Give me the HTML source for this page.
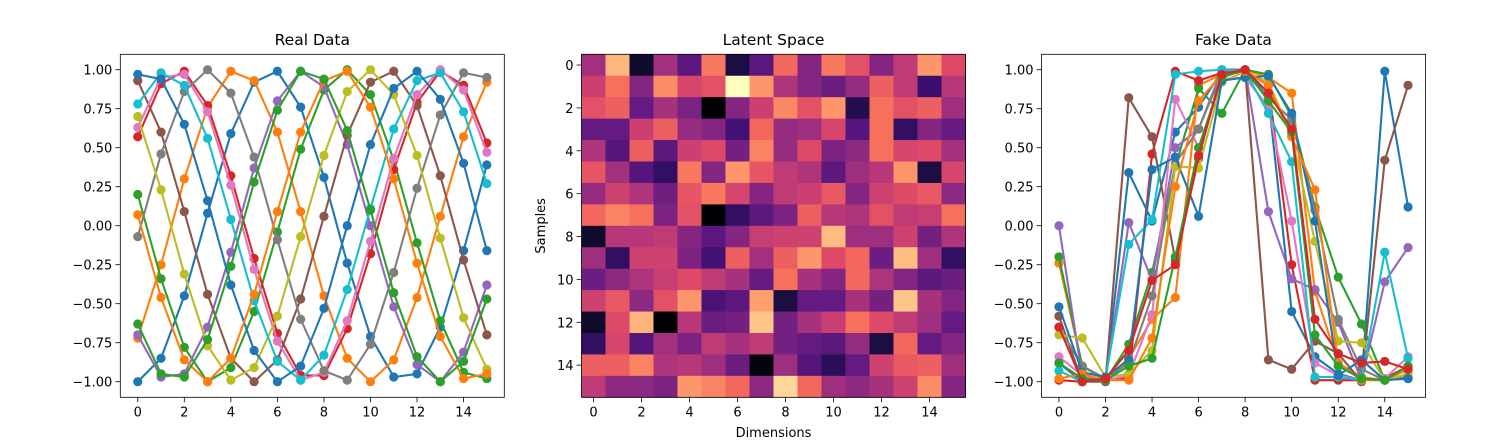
<!DOCTYPE html>
<html><head><meta charset="utf-8"><style>
body{margin:0;background:#fff;}
svg{display:block;font-family:"DejaVu Sans","Liberation Sans",sans-serif;}
</style></head><body>
<svg id="fig" width="1500" height="446" viewBox="0 0 1500 446"></svg>
<script>
const xCats=[0,1,2,3,4,5,6,7,8,9,10,11,12,13,14,15];
const yTicks=[1.00,0.75,0.50,0.25,0.00,-0.25,-0.50,-0.75,-1.00];
const yTickLabels=["1.00","0.75","0.50","0.25","0.00","−0.25","−0.50","−0.75","−1.00"];
const xTickLabels=["0","2","4","6","8","10","12","14"];
const colors=["#1f77b4","#ff7f0e","#2ca02c","#d62728","#9467bd","#8c564b","#e377c2","#7f7f7f","#bcbd22","#17becf"];
const real1=[-1,-.85,-.45,.08,.59,.92,.99,.76,.31,-.24,-.71,-.97,-.95,-.65,-.16,.39];
const real2=[-.72,-.25,.3,.76,.99,.93,.6,.09,-.45,-.85,-1,-.86,-.46,.06,.57,.92];
const real3=[.2,-.34,-.78,-1,-.91,-.55,-.04,.49,.87,1,.84,.42,-.11,-.61,-.94,-.98];
const real4=[.57,.91,.99,.77,.32,-.21,-.69,-.96,-.96,-.66,-.18,.36,.79,.99,.9,.53];
const real5=[-.7,-.97,-.95,-.65,-.17,.37,.8,.99,.89,.52,0,-.52,-.89,-1,-.81,-.38];
const real6=[.93,.6,.09,-.44,-.85,-1,-.86,-.47,.06,.58,.92,.99,.77,.32,-.22,-.7];
const real7=[.63,.95,.97,.73,.26,-.28,-.74,-.99,-.94,-.61,-.1,.43,.84,1,.87,.47];
const real8=[-.07,.46,.86,1,.85,.44,-.09,-.6,-.93,-.99,-.76,-.3,.24,.71,.98,.95];
const real9=[.7,.23,-.31,-.77,-.99,-.91,-.58,-.07,.45,.86,1,.84,.45,-.08,-.59,-.92];
const real10=[.78,.98,.9,.56,.04,-.48,-.87,-.99,-.83,-.41,.11,.62,.93,.98,.73,.27];
const real11=[.97,.94,.65,.16,-.38,-.8,-1,-.9,-.53,0,.52,.88,.99,.81,.4,-.16];
const real12=[.07,-.46,-.86,-1,-.85,-.44,.09,.6,.93,.99,.76,.3,-.24,-.71,-.98,-.95];
const real13=[-.63,-.95,-.97,-.73,-.26,.28,.74,.99,.94,.61,.1,-.43,-.84,-1,-.87,-.47];
const realSeries=[real1,real2,real3,real4,real5,real6,real7,real8,real9,real10,real11,real12,real13];
const fake1=[-.88,-1,-.99,.34,.03,.6,.76,.99,1,.82,-.55,-.84,-.95,-.99,.99,.12];
const fake2=[-.24,-.9,-.98,-.85,-.6,-.46,.9,.97,1,.95,.85,-.42,-.88,-.97,-.99,-.95];
const fake3=[-.2,-.9,-.99,-.76,-.3,.38,.88,.72,1,.97,.7,.12,-.33,-.63,-.99,-.98];
const fake4=[-.99,-1,-.98,-.98,.46,.99,.93,.98,.99,.9,-.25,-.99,-.99,-.99,-.98,-.9];
const fake5=[0,-.97,-.99,.02,-.35,.5,.62,1,1,.09,-.34,-.41,-.62,-.99,-.36,-.14];
const fake6=[-.58,-1,-1,.82,.57,-.22,.43,1,1,-.86,-.92,-.74,-.82,-1,.42,.9];
const fake7=[-.84,-.96,-.99,-.96,-.57,.81,.5,.94,.95,.76,.03,-.88,-.96,-.99,-.98,-.84];
const fake8=[-.65,-.9,-.98,-.88,-.45,.4,.62,.98,.98,.82,.68,.1,-.6,-.92,-.99,-.97];
const fake9=[-.7,-.72,-.97,-.95,-.8,.38,.37,.92,.99,.92,.58,-.1,-.74,-.75,-.99,-.95];
const fake10=[-.93,-1,-.98,-.12,.04,.97,.99,1,.99,.72,.41,-.97,-.97,-.99,-.17,-.85];
const fake11=[-.52,-.94,-.97,-.86,.36,.44,.06,.93,.95,.96,.72,.03,-.96,-.86,-.99,-.98];
const fake12=[-.98,-.95,-.99,-.99,-.72,.25,.8,.97,.99,.9,.57,.23,-.88,-.99,-.99,-.92];
const fake13=[-.88,-.98,-.99,-.9,-.85,-.2,.5,.95,1,.8,.6,-.7,-.9,-.98,-.99,-.9];
const fake14=[-.65,-1,-.98,-.8,-.35,-.25,.45,.97,1,.85,.62,-.6,-.82,-.88,-.87,-.92];
const fakeSeries=[fake1,fake2,fake3,fake4,fake5,fake6,fake7,fake8,fake9,fake10,fake11,fake12,fake13,fake14];
const heat=[
[.45,.85,.08,.45,.28,.72,.12,.28,.68,.38,.72,.62,.38,.52,.78,.6],
[.55,.7,.38,.76,.58,.62,1,.78,.48,.38,.32,.42,.66,.52,.2,.5],
[.62,.66,.3,.46,.35,0,.38,.55,.75,.62,.78,.14,.7,.62,.66,.44],
[.3,.3,.55,.66,.42,.38,.22,.68,.42,.44,.58,.26,.7,.18,.38,.3],
[.48,.26,.66,.28,.55,.6,.34,.74,.42,.6,.36,.4,.7,.58,.6,.45],
[.63,.45,.26,.18,.72,.38,.78,.63,.52,.48,.28,.44,.5,.78,.12,.58],
[.42,.56,.48,.33,.63,.72,.58,.38,.52,.55,.64,.38,.56,.6,.64,.4],
[.68,.74,.7,.36,.62,0,.18,.28,.36,.66,.5,.48,.62,.52,.54,.7],
[.08,.5,.5,.52,.38,.28,.38,.54,.56,.56,.86,.44,.44,.56,.34,.48],
[.44,.18,.56,.56,.36,.22,.66,.45,.66,.78,.6,.68,.32,.86,.44,.18],
[.32,.4,.48,.54,.6,.52,.46,.3,.7,.46,.38,.68,.48,.38,.28,.32],
[.56,.64,.4,.62,.78,.24,.28,.8,.12,.3,.3,.46,.34,.88,.46,.38],
[.08,.6,.84,0,.5,.32,.34,.88,.34,.46,.54,.7,.6,.52,.44,.3],
[.18,.58,.26,.45,.36,.52,.46,.52,.34,.3,.28,.42,.12,.68,.3,.38],
[.66,.66,.74,.48,.5,.44,.32,.02,.44,.26,.16,.3,.56,.64,.66,.44],
[.52,.4,.4,.36,.78,.74,.68,.4,.92,.68,.44,.4,.46,.56,.76,.38]];
const magma=["#000004","#140e36","#3b0f70","#641a80","#8c2981","#b73779","#de4968","#f7705c","#fe9f6d","#fecf92","#fcfdbf"];
function mcol(v){v=Math.max(0,Math.min(1,v));const t=v*10,i=Math.min(9,Math.floor(t)),f=t-i;
 const a=magma[i],b=magma[i+1];const p=(h,k)=>parseInt(h.substr(1+2*k,2),16);
 const c=[0,1,2].map(k=>Math.round(p(a,k)+(p(b,k)-p(a,k))*f));return `rgb(${c[0]},${c[1]},${c[2]})`;}
const NS="http://www.w3.org/2000/svg",svg=document.getElementById('fig');
function el(tag,at,par){const e=document.createElementNS(NS,tag);for(const k in at)e.setAttribute(k,at[k]);(par||svg).appendChild(e);return e;}
const TOP=54.3,BOT=397.3,W=384;
const panels=[120.3,581.5,1041.5];
function xs(L){return v=>L+(v+0.75)*W/16.5;}
function ys(v){return 69.7+(1-v)*(381.7-69.7)/2;}
function ticksX(L,sc,g){for(let i=0;i<xTickLabels.length;i++){const v=+xTickLabels[i],x=sc(v);
 const t=el('line',{x1:x,x2:x,y1:BOT,y2:BOT+4.9,stroke:'#000','stroke-width':0.8},g);
 
 const tx=el('text',{x:x,y:BOT+19,'font-size':13,'text-anchor':'middle',fill:'#000'},g);tx.textContent=xTickLabels[i];
 }}
function title(L,s){const t=el('text',{x:L+W/2,y:45,'font-size':15.5,'text-anchor':'middle',fill:'#000'});t.textContent=s;
 }
function frame(L,g){const r=el('rect',{x:L,y:TOP,width:W,height:BOT-TOP,fill:'none',stroke:'#000','stroke-width':0.8},g);
 }
function linePanel(L,series,name,ttl){
 const g=el('g',{});
 const sx=xs(L);
 const cp=el('clipPath',{id:'c'+name},g);el('rect',{x:L,y:TOP,width:W,height:BOT-TOP},cp);
 const sg=el('g',{'clip-path':`url(#c${name})`},g);
 series.forEach((s,k)=>{const c=colors[k%10];
  const sgrp=el('g',{},sg);
  const pts=s.map((v,i)=>sx(xCats[i])+','+ys(v)).join(' ');
  const pl=el('polyline',{points:pts,fill:'none',stroke:c,'stroke-width':2.1},sgrp);
  
  s.forEach((v,i)=>{const m=el('circle',{cx:sx(xCats[i]),cy:ys(v),r:4.6,fill:c},sgrp);
   });});
 frame(L,g);ticksX(L,sx,g);
 yTicks.forEach((v,i)=>{const y=ys(v);
  const t=el('line',{x1:L-4.9,x2:L,y1:y,y2:y,stroke:'#000','stroke-width':0.8},g);
  
  const tx=el('text',{x:L-8,y:y+5,'font-size':13,'text-anchor':'end',fill:'#000'},g);tx.textContent=yTickLabels[i];
  });
 title(L,ttl);}
linePanel(panels[0],realSeries,'real-data-chart','Real Data');
linePanel(panels[2],fakeSeries,'fake-data-chart','Fake Data');
(function(){const L=panels[1];const g=el('g',{});
 const cw=W/16,ch=(BOT-TOP)/16;
 heat.forEach((row,r)=>row.forEach((v,c)=>{const rc=el('rect',{x:L+c*cw,y:TOP+r*ch,width:cw+0.5,height:ch+0.5,fill:mcol(v)},g);
  }));
 frame(L,g);
 const sx=v=>L+(v+0.5)*cw;ticksX(L,sx,g);
 for(let v=0;v<=14;v+=2){const y=TOP+(v+0.5)*ch;
  const t=el('line',{x1:L-4.9,x2:L,y1:y,y2:y,stroke:'#000','stroke-width':0.8},g);
  
  const tx=el('text',{x:L-8,y:y+5,'font-size':13,'text-anchor':'end',fill:'#000'},g);tx.textContent=String(v);
  }
 const xl=el('text',{x:L+W/2,y:437,'font-size':13,'text-anchor':'middle',fill:'#000'},g);xl.textContent='Dimensions';
 
 const yl=el('text',{x:0,y:0,'font-size':13,'text-anchor':'middle',fill:'#000',transform:`translate(545,${(TOP+BOT)/2}) rotate(-90)`},g);yl.textContent='Samples';
 
 title(L,'Latent Space');})();
</script>
</body></html>
